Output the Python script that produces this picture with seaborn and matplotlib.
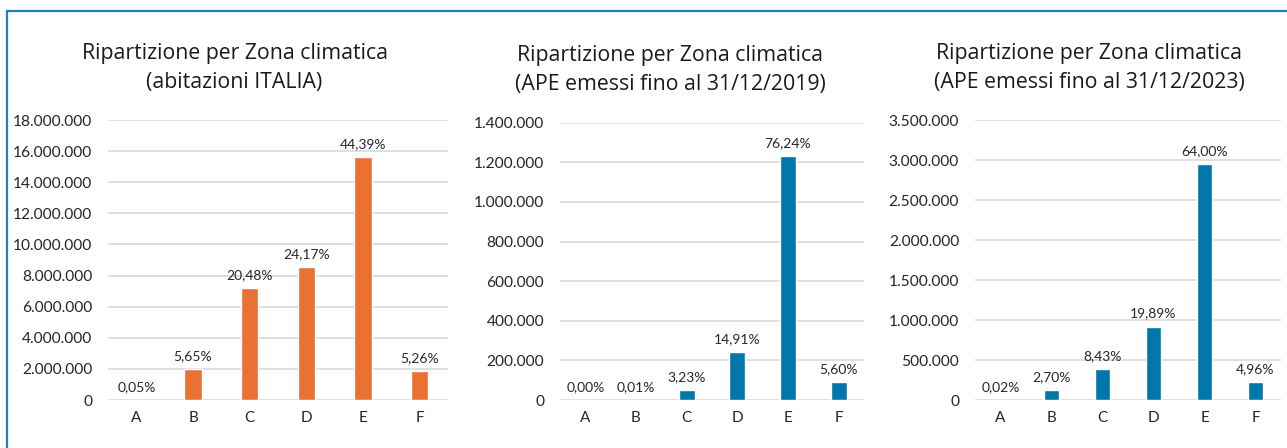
import matplotlib
matplotlib.use("Agg")
import matplotlib.pyplot as plt
from matplotlib.patches import Rectangle
from matplotlib.ticker import FuncFormatter
import seaborn as sns
import pandas as pd

# Climate zones
zones = ["A", "B", "C", "D", "E", "F"]

# Dwellings in Italy per climate zone
abitazioni = [17600, 1991600, 7219000, 8520000, 15647000, 1854000]
abitazioni_pct = ["0,05%", "5,65%", "20,48%", "24,17%", "44,39%", "5,26%"]

# Energy certificates (APE) issued up to 31/12/2019
ape_2019 = [0, 162, 52260, 241200, 1233500, 90600]
ape_2019_pct = ["0,00%", "0,01%", "3,23%", "14,91%", "76,24%", "5,60%"]

# Energy certificates (APE) issued up to 31/12/2023
ape_2023 = [923, 124600, 389000, 918000, 2954000, 229000]
ape_2023_pct = ["0,02%", "2,70%", "8,43%", "19,89%", "64,00%", "4,96%"]

titles = [
    "Ripartizione per Zona climatica\n(abitazioni ITALIA)",
    "Ripartizione per Zona climatica\n(APE emessi fino al 31/12/2019)",
    "Ripartizione per Zona climatica\n(APE emessi fino al 31/12/2023)",
]
y_max = [18000000, 1400000, 3500000]
y_step = [2000000, 200000, 500000]

ORANGE = "#E97132"
BLUE = "#0077AB"
GRID = "#D9D9D9"
TEXT = "#262626"

sns.set_theme(style="white")
plt.rcParams["font.family"] = ["Open Sans", "DejaVu Sans"]

W, H = 1287, 448
fig = plt.figure(figsize=(W / 100, H / 100), dpi=100)
fig.patch.set_facecolor("white")

# Outer frame (only the top and left edges fall inside the canvas)
fig.patches.append(Rectangle((7 / W, -0.1), 1.2, (H - 11) / H + 0.1,
                             transform=fig.transFigure, fill=False,
                             edgecolor="#1F7FBF", linewidth=1.6))

# Axes boxes in pixels: left, right, top, bottom
boxes = [(108, 448, 120, 400), (560, 864, 122.7, 400), (975, 1281, 120, 400)]
title_x = [234.5, 670.5, 1089.5]
title_y = [68, 70, 68]

series = [abitazioni, ape_2019, ape_2023]
labels = [abitazioni_pct, ape_2019_pct, ape_2023_pct]
colors = [ORANGE, BLUE, BLUE]


def thousands(v, _):
    return f"{int(round(v)):,}".replace(",", ".")


for i in range(3):
    l, r, t, b = boxes[i]
    ax = fig.add_axes([l / W, (H - b) / H, (r - l) / W, (b - t) / H])
    df = pd.DataFrame({"zona": zones, "valore": series[i]})
    sns.barplot(data=df, x="zona", y="valore", color=colors[i], width=0.31,
                saturation=1, ax=ax)
    ax.set_xlim(-0.5, 5.5)
    ax.set_ylim(0, y_max[i])
    ticks = list(range(0, y_max[i] + 1, y_step[i]))
    ax.set_yticks(ticks)
    ax.yaxis.set_major_formatter(FuncFormatter(thousands))
    ax.grid(axis="y", color=GRID, linewidth=1.2)
    ax.set_axisbelow(True)
    for s in ["top", "right", "left", "bottom"]:
        ax.spines[s].set_visible(False)
    ax.set_xlabel("")
    ax.set_ylabel("")
    ax.tick_params(axis="y", length=0, pad=11.5, labelsize=11.2, labelcolor=TEXT)
    ax.tick_params(axis="x", length=0, pad=8, labelsize=11, labelcolor=TEXT)
    for tl in ax.get_xticklabels() + ax.get_yticklabels():
        tl.set_fontfamily(["Lato", "DejaVu Sans"])
    for k, (v, lab) in enumerate(zip(series[i], labels[i])):
        ax.annotate(lab, (k, v), xytext=(0, 5), textcoords="offset points",
                    ha="center", va="bottom", fontsize=10, color=TEXT,
                    family=["Lato", "DejaVu Sans"])
    fig.text(title_x[i] / W, (H - title_y[i]) / H, titles[i], ha="center",
             va="center", fontsize=15.3, color="#1a1a1a", linespacing=1.5)

fig.savefig("out.png", dpi=100, facecolor="white")
